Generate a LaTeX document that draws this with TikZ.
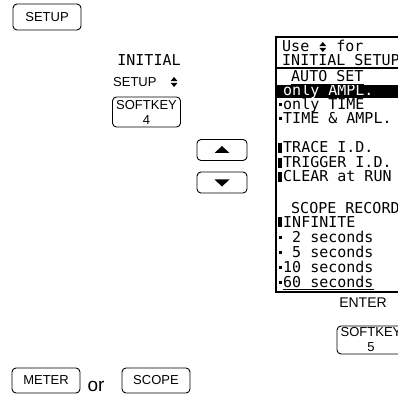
\documentclass[tikz,border=0pt]{standalone}
\usepackage{fontspec}
\setmainfont{Liberation Sans}
\newfontfamily\lcdfont{DejaVu Sans Mono}
\usetikzlibrary{positioning}

% up/down sign of the display
\newcommand\updn{\tikz[baseline=0pt, x=1pt, y=1pt]{%
    \useasboundingbox (0,0) rectangle (9,10);
    \fill (1,5.8) -- (4.5,10) -- (8,5.8) -- cycle;
    \fill (1,4.2) -- (4.5,0) -- (8,4.2) -- cycle;}}

\begin{document}
\begin{tikzpicture}[
    x=1pt, y=-1pt,
    key/.style={rectangle, draw, rounded corners=4pt, line width=0.9pt,
                minimum width=68pt, minimum height=26pt, inner sep=0pt,
                align=center, font=\fontsize{13}{14}\selectfont},
    arrowkey/.style={key, minimum width=50pt, minimum height=21pt},
    sidetext/.style={inner sep=0pt, font=\fontsize{13}{14}\selectfont},
    lcd/.style={anchor=base west, inner sep=0pt,
                font=\fontsize{15}{15}\lcdfont}
]
\useasboundingbox (0,0) rectangle (398,395);
\clip (0,0) rectangle (398,395);

% keys on the left
\node[key] (setup) at (47,17) {SETUP};
\node[sidetext, font=\fontsize{15}{15}\lcdfont] (initial) at (149,60) {INITIAL};
\node[sidetext, anchor=base west] (setupsign) at (113,87) {SETUP\quad\updn};
\node[key, minimum height=30pt] (soft4) at (146.5,112) {SOFTKEY\\[1pt]4};

\node[arrowkey] (up) at (222,150) {};
\node[arrowkey] (down) at (222,182.5) {};
\fill ([shift={(-7.5,3)}]up.center) -- ([shift={(7.5,3)}]up.center)
    -- ([shift={(0,-4)}]up.center) -- cycle;
\fill ([shift={(-7.5,-3)}]down.center) -- ([shift={(7.5,-3)}]down.center)
    -- ([shift={(0,4)}]down.center) -- cycle;

% display
\draw[line width=2pt] (420,37) -- (276,37) -- (276,292) -- (420,292);
\draw[line width=1.2pt] (276,68) -- (420,68);
\fill (276,85) rectangle (420,98);

\node[lcd] (use) at (282,52) {Use \updn{} for};
\node[lcd] (initsetup) at (282,66) {INITIAL SETUP};
\node[lcd] (autoset) at (291,82) {AUTO SET};
\node[lcd, text=white] (ampl) at (283,96) {only AMPL.};
\node[lcd] (time) at (283,110) {only TIME};
\node[lcd] (both) at (283,124) {TIME \& AMPL.};
\node[lcd] (trace) at (283,153) {TRACE I.D.};
\node[lcd] (trigger) at (283,168) {TRIGGER I.D.};
\node[lcd] (clear) at (283,182) {CLEAR at RUN};
\node[lcd] (record) at (291,213) {SCOPE RECORD};
\node[lcd] (infinite) at (283,227) {INFINITE};
\node[lcd] (sec2) at (283,242) {\ 2 seconds};
\node[lcd] (sec5) at (283,257) {\ 5 seconds};
\node[lcd] (sec10) at (283,272) {10 seconds};
\node[lcd] (sec60) at (283,287) {60 seconds};

\draw[line width=0.8pt] ([yshift=-2pt]autoset.base west) -- ([yshift=-2pt]autoset.base east);
\draw[line width=0.8pt] ([yshift=-2pt]sec60.base west) -- ([yshift=-2pt]sec60.base east);

% selection marks
\fill ([xshift=-5.5pt]trace.base west) rectangle ([xshift=-1.5pt, yshift=10pt]trace.base west);
\fill ([xshift=-5.5pt]trigger.base west) rectangle ([xshift=-1.5pt, yshift=10pt]trigger.base west);
\fill ([xshift=-5.5pt]clear.base west) rectangle ([xshift=-1.5pt, yshift=10pt]clear.base west);
\fill ([xshift=-5.5pt]infinite.base west) rectangle ([xshift=-1.5pt, yshift=10pt]infinite.base west);
\fill ([xshift=-4.5pt, yshift=3.5pt]time.base west) rectangle ([xshift=-1.5pt, yshift=6.5pt]time.base west);
\fill ([xshift=-4.5pt, yshift=3.5pt]both.base west) rectangle ([xshift=-1.5pt, yshift=6.5pt]both.base west);
\fill ([xshift=-4.5pt, yshift=3.5pt]sec2.base west) rectangle ([xshift=-1.5pt, yshift=6.5pt]sec2.base west);
\fill ([xshift=-4.5pt, yshift=3.5pt]sec5.base west) rectangle ([xshift=-1.5pt, yshift=6.5pt]sec5.base west);
\fill ([xshift=-4.5pt, yshift=3.5pt]sec10.base west) rectangle ([xshift=-1.5pt, yshift=6.5pt]sec10.base west);
\fill ([xshift=-4.5pt, yshift=3.5pt]sec60.base west) rectangle ([xshift=-1.5pt, yshift=6.5pt]sec60.base west);

% enter key
\node[sidetext, font=\fontsize{14}{14}\selectfont] (enter) at (363,303) {ENTER};
\node[key, minimum height=28pt] (soft5) at (371,340) {SOFTKEY\\[1pt]5};

% bottom keys
\node[key, minimum height=25pt] (meter) at (46,380.5) {METER};
\node[sidetext, anchor=base, font=\fontsize{19}{19}\selectfont] (or) at (96,391) {or};
\node[key, minimum height=25pt] (scope) at (156,380.5) {SCOPE};

\end{tikzpicture}
\end{document}
